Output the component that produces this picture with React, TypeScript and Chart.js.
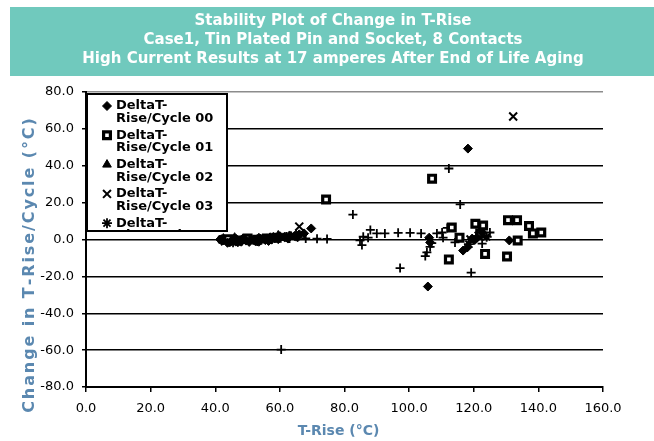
import React, { useEffect, useRef } from 'react';
import { Chart, registerables } from 'chart.js';
import { drawPoint } from 'chart.js/helpers';

Chart.register(...registerables);

const FONT = '"DejaVu Sans", sans-serif';

const titleLines = [
  'Stability Plot of Change in T-Rise',
  'Case1, Tin Plated Pin and Socket, 8 Contacts',
  'High Current Results at 17 amperes After End of Life Aging',
];
const xAxisTitle = 'T-Rise (°C)';
const yAxisTitle = 'Change in T-Rise/Cycle (°C)';

const seriesLabels = [
  'DeltaT-Rise/Cycle 00',
  'DeltaT-Rise/Cycle 01',
  'DeltaT-Rise/Cycle 02',
  'DeltaT-Rise/Cycle 03',
  'DeltaT-Rise/Cycle 04',
  'DeltaT-Rise/Cycle 05',
];

const cycle00: [number, number][] = [
  [41.5, 0], [42.5, -0.5], [43.8, -1.8], [44.5, -1.5], [45, -0.8], [46.5, 0.3],
  [47, -1.5], [48, -1.2], [49.5, -0.6], [50.5, -1.3], [51, 0.2], [52.5, -1],
  [53.5, -1.2], [54, 0.5], [55.5, -0.3], [56.5, -0.8], [57, 1.2], [58.5, 0.8],
  [59.5, 0.2], [60, 1.8], [61.5, 1.5], [62.5, 0.5], [63, 2.2], [64.5, 1.9],
  [65.5, 1.2], [66, 2.8], [67.5, 3.3], [69.7, 6],
  [105.8, -25.5], [106.2, 1], [106.5, -1.6], [116.7, -6], [118, -4.3], [118.2, 49.3],
  [119.5, 0.5], [120.3, -0.3], [121, 1], [122.6, 3.8], [131, -0.5],
];
const cycle01: [number, number][] = [
  [44, 0.2], [47, -0.5], [50, 0.5], [53, -0.2], [56, 0.6], [59, 0.9],
  [74.3, 21.7], [107.1, 33], [112.3, -10.8], [113.2, 6.5], [115.6, 1], [120.5, 8.5],
  [122, 3.3], [122.9, 7.6], [123.5, -7.8], [130.3, -9.2], [130.6, 10.5], [133.4, 10.5],
  [133.6, -0.5], [137.1, 7.3], [138.3, 3.3], [140.9, 3.8],
];
const cycle02: [number, number][] = [
  [42.5, 0.5], [44.5, -0.3], [46, 1], [48.5, 0.2], [51, -0.4], [53.5, 0.7],
  [56, 0.3], [58, 1.1], [59.5, 2.2], [61, 0.9], [63.5, 1.6], [65, 2.5],
];
const cycle03: [number, number][] = [
  [43, -1], [47.5, 0], [52, 0.5], [56.5, -0.2], [60.5, 1], [64, 1.5],
  [66, 7], [119, 0], [121.5, 2], [132.2, 66.7],
];
const cycle04: [number, number][] = [
  [42, 0], [45.5, -1.5], [49, 0.3], [53, -0.8], [57.5, 0.4], [62, 1.3],
  [118.5, -2.5], [124, 1.5],
];
const cycle05: [number, number][] = [
  [60.4, -59.7], [63, 0.5], [68, 0.6], [71.5, 0.4], [74.6, 0.3], [82.6, 13.5],
  [84.8, -0.5], [85.4, -3], [85.8, 1.5], [87.3, 1], [88, 5.2], [90, 3.3],
  [92.5, 3.3], [96.6, 3.6], [97.2, -15.5], [100.3, 3.6], [103.7, 3.3], [105, -9],
  [105.5, -7], [106.5, -4], [107, -2], [108.6, 3.3], [110.2, 3.8], [110.5, 1],
  [111.8, 6.3], [112.3, 38.5], [114.2, -1.6], [115.8, 19], [119.2, -18], [122.6, -2.2],
  [125, 3.8],
];

const seriesData = [cycle00, cycle01, cycle02, cycle03, cycle04, cycle05];
const seriesStyles = [
  { pointStyle: 'rectRot', radius: 4.5, bg: '#000', border: 1 },
  { pointStyle: 'rect', radius: 4.8, bg: '#fff', border: 3.2 },
  { pointStyle: 'triangle', radius: 5, bg: '#000', border: 1 },
  { pointStyle: 'crossRot', radius: 5.6, bg: '#000', border: 2 },
  { pointStyle: 'star', radius: 5, bg: '#000', border: 1.8 },
  { pointStyle: 'cross', radius: 4.5, bg: '#000', border: 1.8 },
];

const bannerPlugin = {
  id: 'banner',
  beforeDraw(chart: any) {
    const { ctx, width, height } = chart;
    ctx.save();
    ctx.fillStyle = '#ffffff';
    ctx.fillRect(0, 0, width, height);
    ctx.fillStyle = '#70c9bd';
    ctx.fillRect(10, 7, width - 10, 69);
    ctx.restore();
  },
};

// Axis-title adjustments: wide y title (Excel-like) and slight x-title shift.
const titlePatch = {
  id: 'titlePatch',
  afterLayout(chart: any) {
    const s: any = chart.scales.y;
    if (s && !s.__patched) {
      s.drawTitle = function () {
        const opts = this.options.title;
        if (!opts.display) return;
        const ctx = this.ctx;
        const chars = Array.from(String(opts.text));
        const spacing = 1.9;
        ctx.save();
        ctx.font = `bold 16px ${FONT}`;
        ctx.fillStyle = opts.color;
        ctx.textBaseline = 'middle';
        ctx.textAlign = 'left';
        const widths = chars.map((ch) => ctx.measureText(ch).width);
        const total = widths.reduce((a, b) => a + b, 0) + spacing * (chars.length - 1);
        const cx = 30;
        const cy = (this.top + this.bottom) / 2 + 26;
        ctx.translate(cx, cy);
        ctx.rotate(-Math.PI / 2);
        let x = -total / 2;
        chars.forEach((ch, i) => {
          ctx.fillText(ch, x, 0);
          x += widths[i] + spacing;
        });
        ctx.restore();
      };
      s.__patched = true;
    }
    const xs: any = chart.scales.x;
    if (xs && !xs.__patched) {
      const orig = xs.drawTitle;
      xs.drawTitle = function (...args: any[]) {
        this.ctx.save();
        this.ctx.translate(-6, 0);
        orig.apply(this, args);
        this.ctx.restore();
      };
      xs.__patched = true;
    }
  },
};

const legendPlugin = {
  id: 'boxLegend',
  afterDraw(chart: any) {
    const ctx = chart.ctx;
    const ca = chart.chartArea;
    const bx = ca.left + 1;
    const by = ca.top + 2;
    const bw = 140;
    const bh = 137;
    ctx.save();
    ctx.fillStyle = '#fff';
    ctx.fillRect(bx, by, bw, bh);
    ctx.beginPath();
    ctx.rect(bx, by, bw, bh - 1);
    ctx.clip();
    ctx.font = `bold 13px ${FONT}`;
    ctx.textBaseline = 'middle';
    ctx.textAlign = 'left';
    chart.data.datasets.forEach((ds: any, i: number) => {
      const y0 = by + 12 + i * 29.3;
      ctx.fillStyle = ds.backgroundColor;
      ctx.strokeStyle = ds.borderColor;
      ctx.lineWidth = ds.borderWidth;
      drawPoint(ctx, { pointStyle: ds.pointStyle, radius: ds.pointRadius, borderWidth: ds.borderWidth, rotation: 0 } as any, bx + 20, y0);
      ctx.fillStyle = '#000';
      const parts = String(ds.label).split(/(?<=-)/);
      ctx.fillText(parts[0], bx + 29, y0);
      ctx.fillText(parts.slice(1).join(''), bx + 29, y0 + 12.6);
    });
    ctx.restore();
    ctx.save();
    ctx.strokeStyle = '#000';
    ctx.lineWidth = 2;
    ctx.strokeRect(bx, by, bw, bh);
    ctx.restore();
  },
};

export default function App() {
  const ref = useRef<HTMLCanvasElement>(null);
  useEffect(() => {
    document.body.style.margin = '0';
    const canvas = ref.current;
    if (!canvas) return;
    const datasets = seriesData.map((pts, i) => {
      const st = seriesStyles[i];
      return {
        label: seriesLabels[i],
        data: pts.map(([x, y]) => ({ x, y })),
        pointStyle: st.pointStyle,
        pointRadius: st.radius,
        pointHoverRadius: st.radius,
        backgroundColor: st.bg,
        borderColor: '#000',
        borderWidth: st.border,
        showLine: false,
        yAxisID: 'y',
      };
    });
    const chart = new Chart(canvas, {
      type: 'scatter',
      data: { datasets: datasets as any },
      options: {
        responsive: false,
        animation: false,
        devicePixelRatio: 1,
        layout: { padding: { left: 12, right: 0, top: 0, bottom: 0 } },
        plugins: {
          legend: { display: false },
          tooltip: { enabled: false },
          title: {
            display: true,
            text: titleLines,
            color: '#ffffff',
            font: { family: FONT, size: 15, weight: 'bold', lineHeight: 19 / 15 },
            padding: { top: 12, bottom: 23 },
          },
        },
        scales: {
          x: {
            type: 'linear',
            position: 'bottom',
            min: 0,
            max: 160,
            ticks: {
              stepSize: 20,
              autoSkip: false,
              maxRotation: 0,
              color: '#000',
              padding: 9,
              font: { family: FONT, size: 13 },
              callback: (v: any) => Number(v).toFixed(1),
            },
            grid: { display: true, drawOnChartArea: false, drawTicks: true, tickLength: 5, color: '#000', lineWidth: 1.5 },
            border: { display: true, color: '#000', width: 2 },
            title: {
              display: true,
              text: xAxisTitle,
              color: '#5b88b0',
              font: { family: FONT, size: 14, weight: 'bold' },
              padding: { top: 0, bottom: 1 },
            },
            afterFit: (s: any) => { s.height = 54; },
          },
          y: {
            type: 'linear',
            position: 'left',
            min: -80,
            max: 80,
            ticks: {
              stepSize: 20,
              color: '#000',
              padding: 8,
              font: { family: FONT, size: 13 },
              callback: (v: any) => Number(v).toFixed(1),
            },
            grid: {
              color: (c: any) => (c.tick && c.tick.value === 80 ? '#8c8c8c' : '#000'),
              tickColor: '#000',
              lineWidth: 1.5,
              tickLength: 4,
            },
            border: { display: true, color: '#000', width: 2 },
            title: {
              display: true,
              text: yAxisTitle,
              color: '#5b88b0',
              font: { family: FONT, size: 14, weight: 'bold' },
              padding: { top: 10, bottom: 0 },
            },
            afterFit: (s: any) => { s.width = 74; },
          },
          yRightSpace: {
            type: 'linear',
            position: 'right',
            display: true,
            min: -80,
            max: 80,
            grid: { display: false, drawTicks: false },
            border: { display: false },
            ticks: { display: false },
            afterFit: (s: any) => { s.width = 51; },
          },
        },
      } as any,
      plugins: [bannerPlugin, titlePatch, legendPlugin],
    });
    return () => chart.destroy();
  }, []);
  return (
    <div style={{ width: 654, height: 441 }}>
      <canvas ref={ref} width={654} height={441} style={{ display: 'block' }} />
    </div>
  );
}
